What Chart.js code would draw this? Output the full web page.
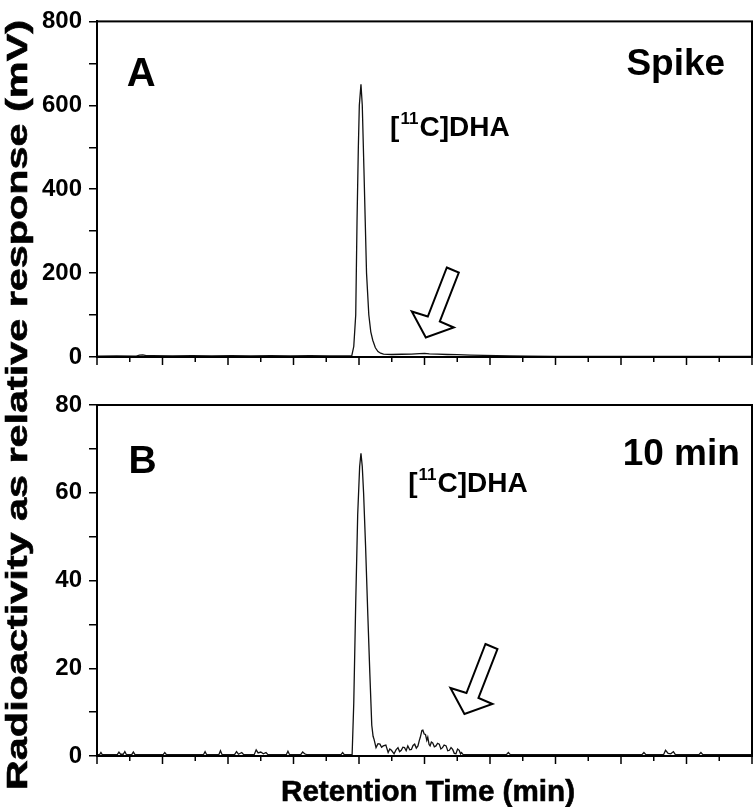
<!DOCTYPE html>
<html>
<head>
<meta charset="utf-8">
<script src="https://cdn.jsdelivr.net/npm/chart.js@4.4.0/dist/chart.umd.min.js"></script>
<style>
  html, body { margin: 0; padding: 0; background: #fff; }
  #wrap { position: relative; width: 755px; height: 807px; }
  canvas { position: absolute; left: 0; top: 0; }
</style>
</head>
<body>
<div id="wrap">
  <canvas id="chartA" width="755" height="807"></canvas>
  <canvas id="chartB" width="755" height="807"></canvas>
</div>
<script>
// retention time axis runs 0..20 (no numeric labels in the original)
const timeA = [0, 0.6, 1.2, 1.3, 1.4, 1.5, 1.7, 2.3, 2.9, 3.5, 4.1, 4.7, 5.3, 5.9, 6.5, 7.1, 7.6,
  7.78, 7.84, 7.9, 7.94, 7.98, 8.01, 8.06, 8.1, 8.15, 8.19, 8.23, 8.3, 8.36, 8.42, 8.5, 8.58, 8.66, 8.75,
  9.0, 9.3, 9.6, 9.85, 10.0, 10.15, 10.4, 10.7, 11.0, 11.4, 11.8, 12.2, 12.6, 13.2, 14.0, 15.0, 16.0, 17.0, 18.0, 19.0, 20.0];
const signalA = [2, 2.5, 2, 4.5, 5, 3.5, 3, 2.5, 3, 2.5, 3, 2.5, 3, 2.5, 3, 2.5, 2.5,
  3, 25, 100, 325, 500, 600, 650, 600, 450, 325, 200, 100, 60, 40, 22, 13, 9, 7,
  6, 6.5, 7, 8, 8.5, 7.5, 7, 6, 5.5, 4.5, 4, 3, 2.5, 2, 1.5, 1.5, 1.5, 1.5, 1.5, 1.5, 1.5];

const timeB = [0, 0.08, 0.12, 0.16, 0.62, 0.67, 0.72, 0.8, 0.85, 0.9, 1.06, 1.11, 1.16, 2.02, 2.07, 2.12,
  3.25, 3.3, 3.35, 3.72, 3.77, 3.82, 4.2, 4.26, 4.32, 4.42, 4.48, 4.8, 4.86, 4.92, 5.0, 5.08, 5.16, 5.22,
  5.78, 5.83, 5.88, 6.22, 6.28, 6.34, 6.4, 7.45, 7.5, 7.55, 7.79,
  7.84, 7.9, 7.96, 8.02, 8.06, 8.1, 8.14, 8.2, 8.27, 8.33, 8.39, 8.43, 8.46,
  8.52, 8.58, 8.64, 8.69, 8.74, 8.82, 8.89, 8.94, 8.99, 9.07, 9.13, 9.19, 9.24, 9.29, 9.34, 9.39, 9.44,
  9.49, 9.55, 9.6, 9.65, 9.7, 9.75, 9.8, 9.84, 9.87, 9.92, 9.95, 9.99, 10.03, 10.07, 10.1, 10.14, 10.17,
  10.21, 10.25, 10.3, 10.35, 10.4, 10.45, 10.5, 10.55, 10.6, 10.66, 10.71, 10.76, 10.81, 10.86, 10.91,
  10.96, 11.01, 11.06, 11.1, 11.13, 11.17, 11.21,
  12.5, 12.56, 12.62, 16.64, 16.7, 16.76, 17.3, 17.36, 17.44, 17.52, 17.6, 17.66, 18.38, 18.44, 18.5, 20];
const signalB = [0.3, 0.3, 0.8, 0.3, 0.3, 0.9, 0.4, 0.4, 1.0, 0.3, 0.3, 0.9, 0.3, 0.3, 0.8, 0.3,
  0.3, 1.0, 0.3, 0.3, 1.2, 0.3, 0.3, 1.0, 0.4, 0.8, 0.3, 0.3, 1.4, 0.7, 0.9, 0.5, 0.8, 0.3,
  0.3, 1.1, 0.3, 0.3, 0.9, 0.5, 0.3, 0.3, 0.8, 0.3, 0.3,
  12, 35, 55, 66, 69, 66, 60, 48, 32, 19, 7, 4.5, 3.8,
  1.9, 2.8, 2.7, 2.0, 2.3, 2.5, 0.8, 1.6, 1.3, 0.5, 1.4, 1.9, 1.0, 1.3, 2.0, 1.9, 1.2,
  2.3, 1.4, 1.5, 2.4, 2.7, 1.8, 2.3, 3.5, 4.2, 5.8, 5.9, 5.0, 4.9, 3.6, 4.3, 2.6, 2.3,
  3.2, 3.0, 2.1, 2.3, 2.9, 2.7, 1.6, 1.9, 2.5, 2.3, 1.2, 1.3, 1.9, 1.5, 0.6,
  0.5, 1.6, 1.3, 0.5, 0.8, 0.4, 0.3,
  0.3, 0.8, 0.3, 0.3, 0.8, 0.3, 0.3, 1.3, 0.6, 0.5, 1.0, 0.3, 0.3, 0.8, 0.3, 0.3];

const FONT = "'Liberation Sans', Arial, Helvetica, sans-serif";

// panel annotations, placed in data coordinates
const notesA = {
  labels: [
    { text: 'A', x: 0.91, y: 646, size: 40, align: 'left' },
    { text: 'Spike', x: 19.18, y: 673, size: 37, align: 'right' }
  ],
  compound: { x: 8.95, y: 527, size: 28 },
  arrow: { x: 10.04, y: 46.5 }
};
const notesB = {
  labels: [
    { text: 'B', x: 0.96, y: 64.4, size: 39, align: 'left' },
    { text: '10 min', x: 19.63, y: 66.3, size: 37, align: 'right' }
  ],
  compound: { x: 9.5, y: 60.2, size: 28 },
  arrow: { x: 11.22, y: 9.57 }
};

// outline arrow, pixel offsets from its tip
const arrowShape = [[21, -70], [33, -65], [14, -16], [28, -10], [0, 0], [-14, -26], [2, -21]];

function toPoints(xs, ys) {
  return xs.map((x, i) => ({ x: x, y: ys[i] }));
}

function stretchedText(ctx, text, x, y, size, length, angle) {
  ctx.save();
  ctx.font = 'bold ' + size + 'px ' + FONT;
  const w = ctx.measureText(text).width;
  ctx.translate(x, y);
  ctx.rotate(angle);
  ctx.scale(length / w, 1);
  ctx.textAlign = 'center';
  ctx.textBaseline = 'alphabetic';
  ctx.fillStyle = '#000';
  ctx.strokeStyle = '#000';
  ctx.lineWidth = 0.6;
  ctx.fillText(text, 0, 0);
  ctx.strokeText(text, 0, 0);
  ctx.restore();
}

function panelPlugin(notes, withTitles) {
  return {
    id: 'panelDecor',
    afterDatasetsDraw(chart) {
      const ctx = chart.ctx;
      const xs = chart.scales.x, ys = chart.scales.y;
      const area = chart.chartArea;
      ctx.save();
      ctx.fillStyle = '#000';
      ctx.textBaseline = 'alphabetic';

      notes.labels.forEach(l => {
        ctx.font = 'bold ' + l.size + 'px ' + FONT;
        ctx.textAlign = l.align;
        ctx.fillText(l.text, xs.getPixelForValue(l.x), ys.getPixelForValue(l.y));
      });

      // [11C]DHA with superscript
      const c = notes.compound;
      let px = xs.getPixelForValue(c.x);
      const py = ys.getPixelForValue(c.y);
      ctx.textAlign = 'left';
      ctx.font = 'bold ' + c.size + 'px ' + FONT;
      ctx.fillText('[', px, py);
      px += ctx.measureText('[').width + 1;
      ctx.font = 'bold ' + Math.round(c.size * 0.62) + 'px ' + FONT;
      ctx.fillText('11', px, py - c.size * 0.42);
      px += ctx.measureText('11').width + 1;
      ctx.font = 'bold ' + c.size + 'px ' + FONT;
      ctx.fillText('C]DHA', px, py);

      // open arrow
      const tx = xs.getPixelForValue(notes.arrow.x);
      const ty = ys.getPixelForValue(notes.arrow.y);
      ctx.beginPath();
      arrowShape.forEach((p, i) => {
        if (i === 0) ctx.moveTo(tx + p[0], ty + p[1]);
        else ctx.lineTo(tx + p[0], ty + p[1]);
      });
      ctx.closePath();
      ctx.fillStyle = '#fff';
      ctx.fill();
      ctx.lineWidth = 2;
      ctx.strokeStyle = '#000';
      ctx.stroke();

      // frame
      ctx.lineWidth = 2;
      ctx.strokeRect(area.left, area.top, area.right - area.left, area.bottom - area.top);

      // x ticks: long every 2, short in between
      ctx.lineWidth = 1.5;
      for (let v = 0; v <= 20; v++) {
        const x = xs.getPixelForValue(v);
        ctx.beginPath();
        ctx.moveTo(x, area.bottom);
        ctx.lineTo(x, area.bottom + (v % 2 === 0 ? 8 : 5));
        ctx.stroke();
      }

      if (withTitles) {
        stretchedText(ctx, 'Radioactivity as relative response (mV)', 27, 405, 30, 770, -Math.PI / 2);
        stretchedText(ctx, 'Retention Time (min)', 428, 801, 30, 294, 0);
      }
      ctx.restore();
    }
  };
}

function makeChart(id, xs, ys, yMax, yStep, padding, notes, withTitles) {
  return new Chart(document.getElementById(id), {
    type: 'line',
    data: {
      datasets: [{
        data: toPoints(xs, ys),
        borderColor: '#111',
        borderWidth: 1.3,
        pointRadius: 0,
        tension: 0,
        fill: false
      }]
    },
    options: {
      responsive: false,
      animation: false,
      events: [],
      layout: { autoPadding: false, padding: padding },
      plugins: { legend: { display: false }, tooltip: { enabled: false } },
      scales: {
        x: {
          type: 'linear', min: 0, max: 20,
          ticks: { display: false },
          grid: { display: false },
          border: { display: false },
          afterFit: s => { s.height = 10; }
        },
        y: {
          min: 0, max: yMax,
          ticks: {
            stepSize: yStep / 2,
            autoSkip: false,
            padding: 7,
            color: '#000',
            font: { family: FONT, size: 24, weight: 'bold' },
            callback: v => (v % yStep === 0 ? v : '')
          },
          grid: { drawOnChartArea: false, tickLength: 8, color: '#000', lineWidth: 1.5 },
          border: { display: true, color: '#000', width: 2 },
          afterFit: s => { s.width = 97; }
        }
      }
    },
    plugins: [panelPlugin(notes, withTitles)]
  });
}

makeChart('chartA', timeA, signalA, 800, 200, { left: 0, top: 8, right: 3, bottom: 440 }, notesA, false);
makeChart('chartB', timeB, signalB, 80, 20, { left: 0, top: 405, right: 3, bottom: 41 }, notesB, true);
</script>
</body>
</html>
